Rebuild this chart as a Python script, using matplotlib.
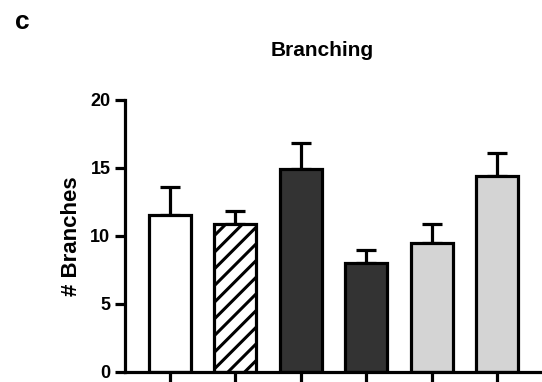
import matplotlib
matplotlib.use("Agg")
import matplotlib.pyplot as plt
import numpy as np

plt.rcParams['font.family'] = ['Liberation Sans', 'DejaVu Sans']
plt.rcParams['hatch.linewidth'] = 2.2

# Data
groups = ["G1", "G2", "G3", "G4", "G5", "G6"]
means = [11.55, 10.86, 14.9, 8.04, 9.51, 14.41]
sems = [2.02, 0.98, 1.96, 0.93, 1.37, 1.66]
colors = ["#ffffff", "#ffffff", "#333333", "#333333", "#d4d4d4", "#d4d4d4"]
hatches = ["", "//", "", "", "", ""]
yticks = [0, 5, 10, 15, 20]

fig = plt.figure(figsize=(5.42, 3.82), dpi=100)
ax = fig.add_axes([125/542, 10/382, 1 - 125/542, 272/382])

x = np.arange(len(groups))
lw = 2.3
ax.errorbar(x, means, yerr=[np.zeros(len(sems)), sems], fmt='none',
            ecolor='black', elinewidth=lw, capsize=7.5, capthick=lw, zorder=1)
for xi, m, c, h in zip(x, means, colors, hatches):
    ax.bar(xi, m, width=0.64, color=c, edgecolor='black', linewidth=lw,
           hatch=h, zorder=2)

ax.set_xlim(-0.687, 5.687)
ax.set_ylim(0, 20)
ax.set_yticks(yticks)
ax.set_yticklabels([str(t) for t in yticks], fontweight='bold', fontsize=13)
ax.set_xticks(x)
ax.set_xticklabels([""] * len(groups))
ax.tick_params(axis='both', width=lw, length=7, direction='out')
ax.tick_params(axis='x', length=12)
for s in ['top', 'right']:
    ax.spines[s].set_visible(False)
for s in ['left', 'bottom']:
    ax.spines[s].set_linewidth(lw)

ax.set_ylabel("# Branches", fontweight='bold', fontsize=16, labelpad=6)
fig.text(322/542, 1 - 50/382, "Branching", fontweight='bold', fontsize=15,
         ha='center', va='center')
fig.text(22/542, 1 - 22/382, "c", fontweight='bold', fontsize=19,
         ha='center', va='center')

fig.savefig("out.png", dpi=100)
